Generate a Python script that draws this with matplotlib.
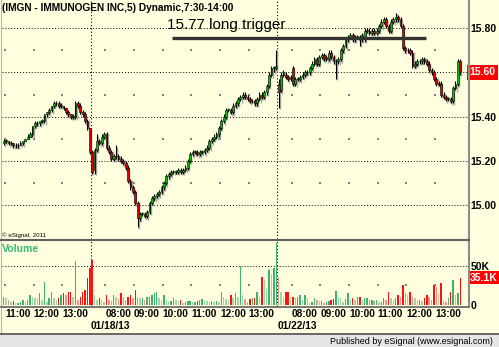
import numpy as np
import matplotlib
matplotlib.use("Agg")
import matplotlib.pyplot as plt
from matplotlib.transforms import blended_transform_factory

plt.rcParams["font.family"] = ["Liberation Sans", "DejaVu Sans"]

# 5 minute bars, IMGN. day 1 is shown from 10:55, days 2 and 3 from 7:30
day_start = [0, 37, 115]
day_labels = ["01/18/13", "01/22/13"]
hour_ticks = [1, 13, 25, 43, 55, 67, 79, 91, 103, 121, 133, 145, 157, 169, 181]
hour_labels = ["11:00", "12:00", "13:00", "08:00", "09:00", "10:00", "11:00", "12:00",
               "13:00", "08:00", "09:00", "10:00", "11:00", "12:00", "13:00"]

o1 = [15.28, 15.29, 15.29, 15.28, 15.28, 15.27, 15.27, 15.27, 15.28, 15.29, 15.30, 15.31, 15.32,
      15.36, 15.37, 15.37, 15.38, 15.38, 15.41, 15.42, 15.43, 15.45, 15.46, 15.46, 15.45, 15.45,
      15.44, 15.42, 15.41, 15.40, 15.40, 15.46, 15.45, 15.42, 15.41, 15.38, 15.35]
c1 = [15.29, 15.29, 15.28, 15.28, 15.27, 15.27, 15.27, 15.28, 15.29, 15.30, 15.31, 15.32, 15.36,
      15.37, 15.37, 15.38, 15.38, 15.41, 15.42, 15.43, 15.45, 15.46, 15.46, 15.45, 15.45, 15.44,
      15.42, 15.41, 15.40, 15.40, 15.46, 15.45, 15.42, 15.41, 15.38, 15.35, 15.24]
h1 = [15.30, 15.30, 15.29, 15.29, 15.28, 15.28, 15.28, 15.29, 15.29, 15.30, 15.32, 15.33, 15.36,
      15.38, 15.38, 15.38, 15.39, 15.41, 15.42, 15.44, 15.45, 15.47, 15.47, 15.47, 15.46, 15.45,
      15.44, 15.43, 15.41, 15.41, 15.47, 15.47, 15.46, 15.43, 15.42, 15.39, 15.35]
l1 = [15.27, 15.28, 15.27, 15.27, 15.26, 15.26, 15.26, 15.27, 15.27, 15.29, 15.30, 15.31, 15.31,
      15.35, 15.36, 15.36, 15.37, 15.37, 15.40, 15.41, 15.42, 15.44, 15.45, 15.44, 15.44, 15.43,
      15.41, 15.40, 15.39, 15.39, 15.39, 15.44, 15.41, 15.40, 15.37, 15.34, 15.23]

o2 = [15.24, 15.16, 15.25, 15.29, 15.28, 15.31, 15.32, 15.26, 15.24, 15.21, 15.22, 15.22, 15.21,
      15.20, 15.19, 15.17, 15.11, 15.08, 15.06, 15.01, 14.94, 14.96, 14.96, 14.95, 14.97, 15.01,
      15.03, 15.04, 15.05, 15.06, 15.08, 15.10, 15.13, 15.14, 15.15, 15.15, 15.15, 15.16, 15.15,
      15.16, 15.17, 15.20, 15.23, 15.24, 15.24, 15.23, 15.24, 15.24, 15.25, 15.26, 15.29, 15.30,
      15.31, 15.32, 15.35, 15.38, 15.40, 15.43, 15.43, 15.42, 15.45, 15.46, 15.48, 15.49, 15.50,
      15.49, 15.48, 15.47, 15.47, 15.46, 15.48, 15.50, 15.49, 15.51, 15.54, 15.59, 15.62, 15.62]
c2 = [15.15, 15.25, 15.29, 15.28, 15.31, 15.32, 15.26, 15.24, 15.21, 15.22, 15.22, 15.21, 15.20,
      15.19, 15.17, 15.11, 15.08, 15.06, 15.01, 14.94, 14.96, 14.96, 14.95, 14.97, 15.01, 15.03,
      15.04, 15.05, 15.06, 15.08, 15.10, 15.13, 15.14, 15.15, 15.15, 15.15, 15.16, 15.15, 15.16,
      15.17, 15.20, 15.23, 15.24, 15.24, 15.23, 15.24, 15.24, 15.25, 15.26, 15.29, 15.30, 15.31,
      15.32, 15.35, 15.38, 15.40, 15.43, 15.43, 15.42, 15.45, 15.46, 15.48, 15.49, 15.50, 15.49,
      15.48, 15.47, 15.47, 15.46, 15.48, 15.50, 15.49, 15.51, 15.54, 15.59, 15.62, 15.62, 15.63]
h2 = [15.25, 15.26, 15.32, 15.30, 15.32, 15.33, 15.33, 15.27, 15.25, 15.23, 15.27, 15.23, 15.22,
      15.21, 15.20, 15.18, 15.12, 15.09, 15.07, 15.02, 14.97, 14.97, 14.97, 14.98, 15.02, 15.04,
      15.05, 15.06, 15.07, 15.09, 15.11, 15.14, 15.15, 15.16, 15.16, 15.16, 15.17, 15.17, 15.17,
      15.18, 15.21, 15.24, 15.25, 15.25, 15.25, 15.25, 15.25, 15.26, 15.27, 15.30, 15.31, 15.32,
      15.33, 15.36, 15.39, 15.41, 15.44, 15.44, 15.44, 15.46, 15.47, 15.49, 15.50, 15.51, 15.51,
      15.50, 15.49, 15.48, 15.48, 15.49, 15.51, 15.51, 15.52, 15.55, 15.60, 15.63, 15.63, 15.70]
l2 = [15.14, 15.14, 15.24, 15.27, 15.27, 15.30, 15.25, 15.23, 15.20, 15.20, 15.21, 15.20, 15.19,
      15.18, 15.16, 15.10, 15.07, 15.05, 15.00, 14.90, 14.93, 14.95, 14.94, 14.94, 14.96, 15.00,
      15.02, 15.03, 15.04, 15.05, 15.07, 15.09, 15.12, 15.13, 15.14, 15.14, 15.14, 15.14, 15.14,
      15.15, 15.16, 15.19, 15.22, 15.23, 15.22, 15.22, 15.23, 15.23, 15.24, 15.25, 15.28, 15.29,
      15.30, 15.31, 15.34, 15.37, 15.39, 15.42, 15.41, 15.41, 15.44, 15.45, 15.47, 15.48, 15.48,
      15.47, 15.46, 15.46, 15.45, 15.45, 15.47, 15.48, 15.48, 15.50, 15.53, 15.58, 15.60, 15.61]

o3 = [15.55, 15.52, 15.59, 15.59, 15.58, 15.57, 15.62, 15.55, 15.57, 15.57, 15.58, 15.59, 15.60,
      15.60, 15.62, 15.64, 15.66, 15.64, 15.67, 15.68, 15.66, 15.66, 15.69, 15.67, 15.65, 15.65,
      15.66, 15.70, 15.72, 15.75, 15.76, 15.77, 15.75, 15.76, 15.76, 15.75, 15.76, 15.79, 15.79,
      15.78, 15.79, 15.78, 15.79, 15.81, 15.83, 15.84, 15.81, 15.79, 15.83, 15.84, 15.85, 15.84,
      15.81, 15.71, 15.70, 15.70, 15.69, 15.63, 15.64, 15.65, 15.65, 15.66, 15.65, 15.64, 15.61,
      15.60, 15.57, 15.55, 15.55, 15.50, 15.49, 15.48, 15.48, 15.47, 15.53, 15.55, 15.65]
c3 = [15.51, 15.59, 15.60, 15.58, 15.57, 15.58, 15.55, 15.57, 15.57, 15.58, 15.59, 15.60, 15.60,
      15.62, 15.64, 15.66, 15.64, 15.67, 15.68, 15.66, 15.67, 15.69, 15.67, 15.65, 15.65, 15.66,
      15.70, 15.72, 15.75, 15.76, 15.77, 15.75, 15.76, 15.76, 15.75, 15.77, 15.79, 15.79, 15.78,
      15.79, 15.78, 15.79, 15.81, 15.83, 15.84, 15.81, 15.79, 15.83, 15.84, 15.85, 15.84, 15.81,
      15.71, 15.70, 15.70, 15.69, 15.63, 15.64, 15.65, 15.65, 15.66, 15.65, 15.64, 15.61, 15.60,
      15.57, 15.55, 15.55, 15.50, 15.49, 15.48, 15.48, 15.47, 15.53, 15.55, 15.65, 15.60]
h3 = [15.57, 15.60, 15.61, 15.60, 15.59, 15.59, 15.63, 15.58, 15.58, 15.59, 15.60, 15.61, 15.61,
      15.63, 15.65, 15.67, 15.67, 15.68, 15.69, 15.69, 15.68, 15.70, 15.70, 15.68, 15.66, 15.67,
      15.71, 15.73, 15.76, 15.77, 15.78, 15.78, 15.77, 15.77, 15.77, 15.78, 15.80, 15.80, 15.80,
      15.80, 15.80, 15.80, 15.82, 15.84, 15.85, 15.85, 15.82, 15.84, 15.85, 15.87, 15.86, 15.85,
      15.82, 15.72, 15.71, 15.71, 15.70, 15.65, 15.66, 15.66, 15.67, 15.67, 15.66, 15.65, 15.62,
      15.61, 15.58, 15.56, 15.56, 15.51, 15.50, 15.49, 15.49, 15.54, 15.56, 15.66, 15.66]
l3 = [15.44, 15.51, 15.58, 15.57, 15.56, 15.56, 15.54, 15.54, 15.56, 15.56, 15.57, 15.58, 15.59,
      15.59, 15.61, 15.63, 15.63, 15.63, 15.66, 15.65, 15.65, 15.65, 15.66, 15.64, 15.57, 15.64,
      15.65, 15.69, 15.71, 15.74, 15.75, 15.74, 15.74, 15.75, 15.72, 15.74, 15.74, 15.78, 15.77,
      15.77, 15.77, 15.77, 15.78, 15.80, 15.82, 15.80, 15.78, 15.78, 15.82, 15.83, 15.83, 15.80,
      15.70, 15.69, 15.69, 15.68, 15.62, 15.62, 15.63, 15.64, 15.64, 15.64, 15.63, 15.60, 15.59,
      15.56, 15.54, 15.54, 15.49, 15.48, 15.47, 15.47, 15.46, 15.46, 15.52, 15.54, 15.59]

# volume in thousands of shares
v1 = [10.7, 8.5, 6, 4.3, 5, 2, 3, 4.3, 6, 4.3, 7, 12.8, 10.7, 9, 8.5, 15, 6.4, 30, 4.3, 9, 17,
      8.5, 6, 8.5, 12.8, 15, 12.8, 17, 17, 10.7, 56.8, 6.4, 10.7, 17, 19, 34, 48]
v2 = [57.6, 12.8, 6.4, 8.5, 6, 4.3, 12.8, 6.4, 5, 12.8, 10.7, 8, 15, 10.7, 7, 10.7, 12.8, 9, 19,
      10.7, 8.5, 8.5, 7, 10.7, 10.7, 12.8, 15, 17, 8.5, 6, 12.8, 6.4, 4.3, 5, 8.5, 6.4, 5, 6.4, 3,
      4.3, 5, 5.5, 4, 4.3, 5, 6.4, 7.3, 5.5, 5, 4.3, 5.5, 4.3, 5, 4.3, 17, 10.7, 8, 6.4, 12.8, 8.5,
      15, 10, 50, 12.8, 8, 4.3, 7.3, 8.5, 8.5, 17, 10.7, 36, 32, 21, 45, 40, 47, 79]
v3 = [36, 17, 10.7, 17, 17, 10.7, 10.7, 8.5, 10.7, 12.8, 6.4, 12.8, 8.5, 2, 4.3, 8.5, 6.4, 5,
      5.5, 3, 4.3, 5, 6.4, 7.3, 18, 10.7, 8.5, 4.3, 8, 15, 6.4, 8.5, 7, 10.7, 10.7, 6.4, 8.5, 8.5,
      6.4, 6.4, 5, 6.4, 4.3, 4.3, 8.5, 6, 17, 8.5, 6.4, 8.5, 12.8, 10, 26, 15, 12.8, 17, 10, 8.5,
      6.4, 6.4, 5, 8.5, 12.8, 10, 6.4, 26, 23.5, 15, 28, 5, 4.3, 8.5, 17, 32, 12.8, 15, 35.1]

trigger_level = 15.757
trigger_bars = (70.9, 177.2)

opens = np.array(o1 + o2 + o3)
closes = np.array(c1 + c2 + c3)
highs = np.array(h1 + h2 + h3)
lows = np.array(l1 + l2 + l3)
vols = np.array(v1 + v2 + v3)
x = np.arange(len(closes)) + 0.5
up = closes >= opens

bg = "#ffffe0"
green = "#00c400"
red = "#e00000"

W, H = 499, 347
fig = plt.figure(figsize=(W / 100, H / 100), dpi=100, facecolor=bg)


def box(x0, y0, x1, y1):
    return [x0 / W, 1 - y1 / H, (x1 - x0) / W, (y1 - y0) / H]


axp = fig.add_axes(box(2, 1, 468, 239), facecolor=bg)
axv = fig.add_axes(box(2, 241, 468, 306), facecolor=bg)
xlim = (-0.24, 194.74)

# price panel
axp.set_xlim(*xlim)
axp.set_ylim(14.8466, 15.9235)
for s in axp.spines.values():
    s.set_visible(False)
price_ticks = [15.0, 15.2, 15.4, 15.6, 15.8]
axp.hlines(price_ticks, *xlim, colors="black", linestyles=(0, (1, 2)), lw=0.7, zorder=1)
hx, hy = np.meshgrid(hour_ticks, [15.1, 15.3, 15.5, 15.7])
axp.scatter(hx.ravel(), hy.ravel(), s=1.2, marker="s", color="#808080", lw=0, zorder=1)
for d in day_start[1:]:
    axp.axvline(d, color="black", ls=(0, (1, 2)), lw=0.8, zorder=1)
    axv.axvline(d, color="black", ls=(0, (1, 2)), lw=0.8, zorder=1)

# candle shadows then candles
sh = 0.006
axp.vlines(x + 0.5, lows - sh, highs - sh, color="#a8a8a0", lw=1.0, zorder=2)
body_lo = np.minimum(opens, closes)
body_h = np.maximum(np.abs(closes - opens), 0.003)
axp.bar(x + 0.5, body_h, bottom=body_lo - sh, width=0.7, color="#a8a8a0", lw=0, zorder=2)
axp.vlines(x, lows, highs, color="black", lw=0.8, zorder=3)
axp.bar(x, body_h, bottom=body_lo, width=0.75, color=np.where(up, green, red),
        edgecolor="black", lw=0.4, zorder=4)

axp.hlines(trigger_level, *trigger_bars, color="#333333", lw=2.4, zorder=5)

axp.yaxis.tick_right()
axp.set_yticks(price_ticks)
axp.set_yticklabels(["%.2f" % p for p in price_ticks], fontsize=7.5, fontweight="bold")
axp.tick_params(axis="y", length=0, pad=2)
axp.tick_params(axis="x", bottom=False, labelbottom=False)
tp = blended_transform_factory(axp.transAxes, axp.transData)
axp.text(1.004, closes[-1], "%.2f" % closes[-1], transform=tp, va="center", ha="left",
         color="white", fontsize=7.5, fontweight="bold",
         bbox=dict(boxstyle="square,pad=0.25", fc="#ff0000", ec="none"), zorder=10, clip_on=False)

# volume panel
axv.set_xlim(*xlim)
axv.set_ylim(-1.28, 82)
for s in axv.spines.values():
    s.set_visible(False)
axv.hlines(50, *xlim, colors="black", linestyles=(0, (1, 2)), lw=0.7, zorder=1)
axv.scatter(hour_ticks, [25] * len(hour_ticks), s=1.2, marker="s", color="#808080", lw=0, zorder=1)
darker = np.concatenate([[True], vols[1:] >= vols[:-1]])
vcol = np.where(up, np.where(darker, "#3cb371", "#9ad8a8"), np.where(darker, "#ff1010", "#f4908c"))
axv.bar(x, vols, width=0.6, color=vcol, lw=0, zorder=2)
axv.yaxis.tick_right()
axv.set_yticks([0, 50])
axv.set_yticklabels(["0", "50K"], fontsize=7.5, fontweight="bold")
axv.tick_params(axis="y", length=0, pad=2)
tv = blended_transform_factory(axv.transAxes, axv.transData)
axv.text(1.004, vols[-1], "%.1fK" % vols[-1], transform=tv, va="center", ha="left",
         color="white", fontsize=7.5, fontweight="bold",
         bbox=dict(boxstyle="square,pad=0.15", fc="#ff0000", ec="none"), zorder=10, clip_on=False)
axv.set_xticks(hour_ticks)
axv.set_xticklabels(hour_labels, fontsize=7.3, fontweight="bold", ha="left")
axv.tick_params(axis="x", length=0, pad=2.5)
td = blended_transform_factory(axv.transData, axv.transAxes)
for d, lab in zip(day_start[1:], day_labels):
    axv.text(d, -0.31, lab, transform=td, fontsize=7.3, fontweight="bold", ha="left", va="center")

# frame and captions in pixel space
ov = fig.add_axes([0, 0, 1, 1], zorder=20)
ov.set_xlim(0, W)
ov.set_ylim(H, 0)
ov.axis("off")
ov.patch.set_visible(False)
ov.plot([469, 469], [0, 306], color="#8c8c8c", lw=1.5)
ov.plot([1, 1], [0, 333], color="#b8b8b8", lw=0.8)
ov.plot([1, 469], [240, 240], color="#606060", lw=1.5)
ov.plot([1, 469], [306.5, 306.5], color="#606060", lw=1.2)
ov.plot([0, W], [333.5, 333.5], color="#505050", lw=1.2)
ov.fill_between([0, W], 334.2, H, color="#e6e6e6", lw=0)
ov.text(493, 341, "Published by eSignal (www.esignal.com)", fontsize=6.5, ha="right", va="center")
ov.text(2, 7.5, "(IMGN - IMMUNOGEN INC,5) Dynamic,7:30-14:00", fontsize=7.3,
        fontweight="bold", va="center", ha="left")
ov.text(167, 25, "15.77 long trigger", fontsize=11, va="center", ha="left")
ov.text(2, 235, "\u00a9 eSignal, 2011", fontsize=4.5, va="center", ha="left")
ov.text(2, 248.5, "Volume", fontsize=7.6, fontweight="bold", color="#3cb878", va="center", ha="left")

fig.savefig("out.png", dpi=100, facecolor=bg)
